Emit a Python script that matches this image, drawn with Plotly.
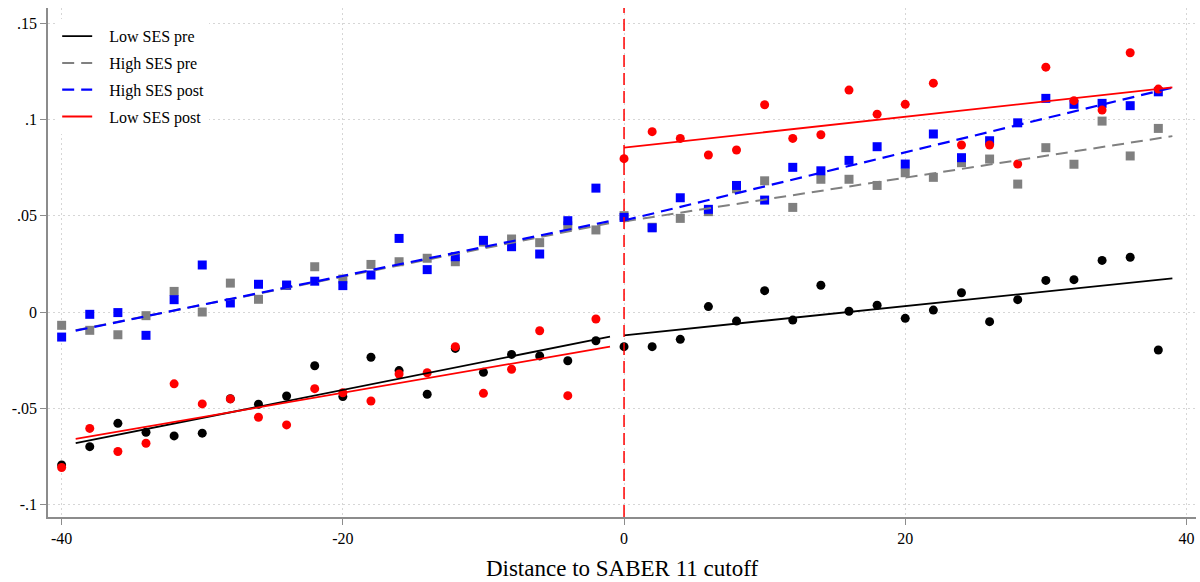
import plotly.graph_objects as go

# ---- data ----
x_left = [-40, -38, -36, -34, -32, -30, -28, -26, -24, -22, -20, -18, -16, -14, -12, -10, -8, -6, -4, -2]
x_right = [0, 2, 4, 6, 8, 10, 12, 14, 16, 18, 20, 22, 24, 26, 28, 30, 32, 34, 36, 38]
x_all = x_left + x_right

low_pre = [-0.0794, -0.0699, -0.0578, -0.0624, -0.0643, -0.0629, -0.0450, -0.0479, -0.0436, -0.0279,
           -0.0439, -0.0235, -0.0304, -0.0427, -0.0189, -0.0313, -0.0220, -0.0228, -0.0253, -0.0149,
           -0.0180, -0.0180, -0.0142, 0.0028, -0.0047, 0.0111, -0.0042, 0.0139, 0.0004, 0.0035,
           -0.0033, 0.0010, 0.0100, -0.0050, 0.0064, 0.0164, 0.0168, 0.0268, 0.0284, -0.0197]

high_pre = [-0.0069, -0.0095, -0.0118, -0.0019, 0.0107, 0.0000, 0.0150, 0.0066, 0.0138, 0.0235,
            0.0171, 0.0247, 0.0261, 0.0279, 0.0261, 0.0363, 0.0379, 0.0360, 0.0447, 0.0426,
            0.0500, 0.0440, 0.0486, 0.0521, 0.0640, 0.0681, 0.0543, 0.0689, 0.0689, 0.0657,
            0.0723, 0.0699, 0.0775, 0.0794, 0.0664, 0.0853, 0.0767, 0.0991, 0.0810, 0.0953]

high_post = [-0.0130, -0.0012, -0.0003, -0.0121, 0.0064, 0.0244, 0.0047, 0.0144, 0.0140, 0.0160,
             0.0137, 0.0192, 0.0382, 0.0220, 0.0287, 0.0372, 0.0339, 0.0301, 0.0474, 0.0643,
             0.0491, 0.0437, 0.0593, 0.0533, 0.0657, 0.0581, 0.0751, 0.0733, 0.0787, 0.0858,
             0.0768, 0.0924, 0.0801, 0.0889, 0.0982, 0.1109, 0.1078, 0.1083, 0.1071, 0.1143]

low_post = [-0.0807, -0.0604, -0.0724, -0.0681, -0.0373, -0.0477, -0.0451, -0.0546, -0.0586, -0.0398,
            -0.0419, -0.0462, -0.0322, -0.0315, -0.0180, -0.0422, -0.0297, -0.0097, -0.0434, -0.0036,
            0.0796, 0.0936, 0.0901, 0.0815, 0.0841, 0.1076, 0.0901, 0.0920, 0.1152, 0.1027,
            0.1078, 0.1188, 0.0867, 0.0867, 0.0768, 0.1271, 0.1097, 0.1048, 0.1346, 0.1157]

# linear fit endpoints, left and right of the cutoff
fit_x_left = [-39, -1]
fit_x_right = [0, 39]
fit_low_pre = ([-0.0681, -0.0128], [-0.0121, 0.0175])
fit_high_pre = ([-0.0095, 0.0462], [0.0470, 0.0913])
fit_high_post = ([-0.0097, 0.0472], [0.0475, 0.1165])
fit_low_post = ([-0.0659, -0.0180], [0.0853, 0.1166])

series_names = ["Low SES pre", "High SES pre", "High SES post", "Low SES post"]

cutoff = 0
y_ticks = [-0.1, -0.05, 0, 0.05, 0.1, 0.15]
y_tick_labels = ["-.1", "-.05", "0", ".05", ".1", ".15"]
x_ticks = [-40, -20, 0, 20, 40]
x_tick_labels = ["-40", "-20", "0", "20", "40"]
x_title = "Distance to SABER 11 cutoff"

FONT = "Liberation Serif, Times New Roman, serif"
BLACK, GRAY, BLUE, RED = "#000000", "#808080", "#0000ff", "#ff0000"

fig = go.Figure()

# scatter points
fig.add_trace(go.Scatter(x=x_all, y=high_pre, mode="markers", showlegend=False,
                         marker=dict(symbol="square", size=9, color=GRAY)))
fig.add_trace(go.Scatter(x=x_all, y=high_post, mode="markers", showlegend=False,
                         marker=dict(symbol="square", size=9, color=BLUE)))
fig.add_trace(go.Scatter(x=x_all, y=low_pre, mode="markers", showlegend=False,
                         marker=dict(symbol="circle", size=9, color=BLACK)))
fig.add_trace(go.Scatter(x=x_all, y=low_post, mode="markers", showlegend=False,
                         marker=dict(symbol="circle", size=9, color=RED)))

DASH = "12px,7px"
styles = [
    (fit_low_pre, BLACK, "solid", 1.8),
    (fit_high_pre, GRAY, DASH, 2),
    (fit_high_post, BLUE, DASH, 2.2),
    (fit_low_post, RED, "solid", 1.8),
]
PAD = "\u00a0\u00a0\u00a0"
for name, ((yl, yr), col, dash, w) in zip(series_names, styles):
    fig.add_trace(go.Scatter(x=fit_x_left, y=yl, mode="lines", name=PAD + name, legendgroup=name,
                             line=dict(color=col, dash=dash, width=w)))
    fig.add_trace(go.Scatter(x=fit_x_right, y=yr, mode="lines", name=name, legendgroup=name,
                             showlegend=False, line=dict(color=col, dash=dash, width=w)))

fig.add_shape(type="line", xref="x", yref="paper", x0=cutoff, x1=cutoff, y0=0, y1=1,
              line=dict(color=RED, width=1.5, dash="12px,6px"), layer="above")

GRID = dict(showgrid=True, gridcolor="#d6d6d6", griddash="2px,3px", gridwidth=1,
            zeroline=False, showline=True, linecolor="#8c8c8c", linewidth=1.5,
            ticks="outside", ticklen=6, tickcolor="#8c8c8c", tickwidth=1.2,
            tickfont=dict(family=FONT, size=16))

fig.update_layout(
    width=1200, height=582,
    margin=dict(l=48, r=4, t=8, b=65),
    paper_bgcolor="white", plot_bgcolor="white",
    font=dict(family=FONT, size=16, color="#000000"),
    showlegend=True,
    legend=dict(x=0.008, y=0.978, xanchor="left", yanchor="top", bgcolor="white",
                font=dict(family=FONT, size=16), tracegroupgap=3, itemwidth=30,
                traceorder="grouped"),
    xaxis=dict(range=[-40.97, 40.68], tickvals=x_ticks, ticktext=x_tick_labels,
               title=dict(text=x_title, font=dict(family=FONT, size=23), standoff=14),
               **GRID),
    yaxis=dict(range=[-0.1064, 0.1578], tickvals=y_ticks, ticktext=y_tick_labels, **GRID),
)

fig.write_html("out.html")
